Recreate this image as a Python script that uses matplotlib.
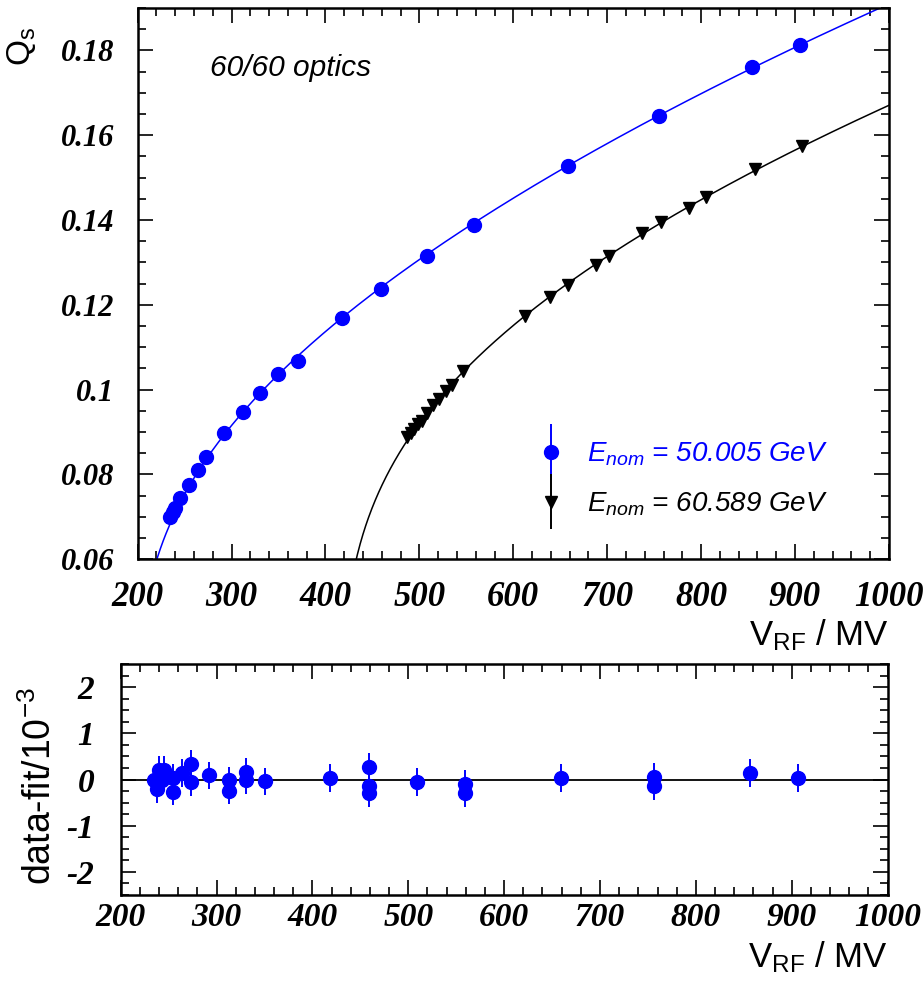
import numpy as np
import matplotlib
matplotlib.use("Agg")
import matplotlib.pyplot as plt
from matplotlib.container import ErrorbarContainer
from matplotlib.legend_handler import HandlerErrorbar
from matplotlib.ticker import MultipleLocator, FormatStrFormatter
from matplotlib.font_manager import FontProperties

plt.rcParams['font.family'] = ['Liberation Sans', 'DejaVu Sans']
plt.rcParams['mathtext.fontset'] = 'custom'
plt.rcParams['mathtext.rm'] = 'Liberation Sans'
plt.rcParams['mathtext.it'] = 'Liberation Sans:italic'

# synchrotron tune vs RF voltage, 60/60 optics
v_50 = np.array([234.4, 237.2, 239.7, 245.0, 254.6, 264.5, 272.7, 291.8, 312.0,
                 330.0, 349.0, 370.5, 417.3, 459.0, 508.0, 558.0, 658.1, 754.9,
                 854.3, 905.3])
q_50 = np.array([0.06985, 0.07103, 0.07207, 0.07434, 0.07751, 0.08107, 0.08421,
                 0.08973, 0.09475, 0.09920, 0.10362, 0.10670, 0.11688, 0.12374,
                 0.13155, 0.13889, 0.15269, 0.16445, 0.17597, 0.18133])

v_60 = np.array([486.5, 490.7, 493.9, 498.2, 502.4, 507.8, 514.1, 520.5, 528.0,
                 534.4, 546.1, 612.0, 638.6, 658.8, 688.6, 702.4, 737.6, 757.8,
                 787.6, 805.6, 857.8, 907.8])
q_60 = np.array([0.0887, 0.0897, 0.0908, 0.0918, 0.0927, 0.0944, 0.0963, 0.0977,
                 0.0996, 0.1010, 0.1043, 0.1173, 0.1218, 0.1247, 0.1294, 0.1315,
                 0.1370, 0.1394, 0.1429, 0.1455, 0.1519, 0.1574])
q_err = 0.0003

# residuals of the 50 GeV points, in units of 1e-3
v_res = np.array([235.1, 237.5, 240.3, 242.7, 245.5, 254.2, 254.2, 264.3, 273.0,
                  273.0, 292.4, 312.6, 312.6, 330.7, 330.7, 350.2, 418.2, 459.2,
                  459.2, 459.2, 508.7, 558.7, 558.7, 658.8, 756.4, 756.4, 856.2,
                  907.0])
res = np.array([-0.02, -0.20, 0.21, 0.0, 0.21, 0.04, -0.26, 0.14, 0.34, -0.06,
                0.09, -0.02, -0.24, 0.16, -0.02, -0.04, 0.03, 0.27, -0.13, -0.30,
                -0.06, -0.09, -0.30, 0.04, 0.05, -0.15, 0.14, 0.03])
res_err = 0.3


def fit_qs(v, q):
    # Qs^4 = a*V^2 + b  ->  Qs = (a*V^2 + b)^(1/4)
    a, b = np.polyfit(v**2, q**4, 1)
    vv = np.linspace(np.sqrt(-b / a) + 1e-6, 1000, 800)
    return vv, (a * vv**2 + b) ** 0.25


def tick_font(size):
    return FontProperties(family='Liberation Serif', weight='bold',
                          style='italic', size=size)


def style_axes(ax, xsize, ysize):
    ax.tick_params(which='both', direction='in', top=True, right=True,
                   colors='black', width=1.2)
    ax.tick_params(which='major', length=11)
    ax.tick_params(which='minor', length=5.5)
    for s in ax.spines.values():
        s.set_linewidth(1.8)
    ax.xaxis.set_major_locator(MultipleLocator(100))
    ax.xaxis.set_minor_locator(MultipleLocator(20))
    for lab in ax.get_xticklabels():
        lab.set_fontproperties(tick_font(xsize))
    for lab in ax.get_yticklabels():
        lab.set_fontproperties(tick_font(ysize))


fig = plt.figure(figsize=(9.24, 9.88), dpi=100)
ax1 = fig.add_axes([0.149, 0.434, 0.813, 0.558])
ax2 = fig.add_axes([0.1306, 0.0941, 0.830, 0.2338])

# top panel
vf, qf = fit_qs(v_50, q_50)
ax1.plot(vf, qf, color='blue', lw=1.1)
vf, qf = fit_qs(v_60, q_60)
ax1.plot(vf, qf, color='black', lw=1.1)

h50 = ax1.errorbar(v_50, q_50, yerr=q_err, fmt='o', color='blue', ms=10,
                   elinewidth=1.4, capsize=0)
h60 = ax1.errorbar(v_60, q_60, yerr=q_err, fmt='v', color='black', ms=9,
                   elinewidth=1.4, capsize=0)

ax1.set_xlim(200, 1000)
ax1.set_ylim(0.06, 0.19)
ax1.yaxis.set_major_locator(MultipleLocator(0.02))
ax1.yaxis.set_minor_locator(MultipleLocator(0.005))
ax1.yaxis.set_major_formatter(FormatStrFormatter('%g'))
style_axes(ax1, 25, 22)
ax1.tick_params(axis='y', pad=17)
ax1.tick_params(axis='x', pad=16)

ax1.set_xlabel(r'V$_{\mathrm{RF}}$ / MV', fontsize=25, loc='right')
ax1.xaxis.set_label_coords(1.0, -0.105)
ax1.set_ylabel(r'Q$_{\mathrm{s}}$', fontsize=24, loc='top', va='center')
ax1.yaxis.set_label_coords(-0.154, 0.965)

ax1.text(0.096, 0.891, '60/60 optics', transform=ax1.transAxes, fontsize=21.5,
         style='italic', va='center', ha='left')

leg = ax1.legend([h50, h60], [r'$E_{nom}$ = 50.005 GeV', r'$E_{nom}$ = 60.589 GeV'],
                 loc='center left', bbox_to_anchor=(0.495, 0.145), frameon=False,
                 prop=dict(family='Liberation Sans', style='italic', size=20),
                 handlelength=1.2, handletextpad=0.7, labelspacing=0.8,
                 handler_map={ErrorbarContainer: HandlerErrorbar(yerr_size=1.0)})
leg.get_texts()[0].set_color('blue')

# bottom panel: residuals
ax2.axhline(0, color='black', lw=1.3)
ax2.errorbar(v_res, res, yerr=res_err, fmt='o', color='blue', ms=10,
             elinewidth=1.4, capsize=0)
ax2.set_xlim(200, 1000)
ax2.set_ylim(-2.5, 2.5)
ax2.yaxis.set_major_locator(MultipleLocator(1))
ax2.yaxis.set_minor_locator(MultipleLocator(0.25))
ax2.yaxis.set_major_formatter(FormatStrFormatter('%g'))
style_axes(ax2, 24, 24)
ax2.tick_params(axis='y', pad=19)
ax2.tick_params(axis='x', pad=5)

ax2.set_xlabel(r'V$_{\mathrm{RF}}$ / MV', fontsize=25, loc='right')
ax2.xaxis.set_label_coords(1.0, -0.19)
ax2.set_ylabel(r'data-fit/10$^{-3}$', fontsize=27, va='center')
ax2.yaxis.set_label_coords(-0.105, 0.47)

fig.savefig('out.png', dpi=100)
